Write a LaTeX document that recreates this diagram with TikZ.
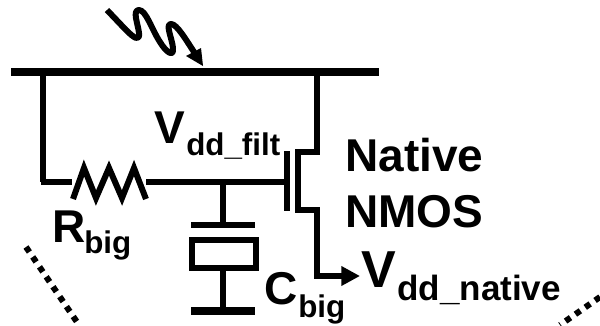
\documentclass[tikz,border=0pt]{standalone}
\usepackage{fontspec}
\setmainfont{Liberation Sans}
\usetikzlibrary{arrows.meta}
\tikzset{
  wire/.style={line width=4.5pt,black},
  bar/.style={line width=6pt,black},
  big/.style={inner sep=0pt,anchor=base west,font=\fontsize{34.5pt}{36pt}\selectfont\bfseries},
  sub/.style={inner sep=0pt,anchor=base west,font=\fontsize{23.5pt}{26pt}\selectfont\bfseries},
  dots/.style={line width=4.5pt,black,dash pattern=on 4.5pt off 4.5pt},
}
\begin{document}
\begin{tikzpicture}[x=0.75pt,y=-0.75pt]
\useasboundingbox (0,0) rectangle (600,325);
% named points
\coordinate (barL) at (11,72);
\coordinate (barR) at (379,72);
\coordinate (tapL) at (43,72);
\coordinate (tapR) at (317,72);
\coordinate (corner) at (43,182);
\coordinate (resL) at (72,182);
\coordinate (resR) at (146,182);
\coordinate (capT) at (223,182);
\coordinate (gate) at (287,182);
\coordinate (out) at (360,276);
\coordinate (arrowTip) at (203,66);
\coordinate (lightStart) at (107,10);
% rail and wires
\draw[bar] (barL) -- (barR);
\draw[wire] (tapL) -- (corner);
\draw[wire] (41,182) -- (resL);
\draw[wire] (resR) -- (gate);
% resistor
\draw[wire,miter limit=10] (73,199) -- (84,168) -- (96,198) -- (109,168) -- (122,198) -- (134,168) -- (146,199);
% capacitor
\draw[wire] (capT) -- (223,225);
\draw[wire] (191,225) -- (255,225);
\draw[wire] (191.5,240) rectangle (255.5,268);
\draw[wire] (223,268) -- (223,311);
\draw[bar] (191,311) -- (255,311);
% transistor
\draw[wire] (287,151) -- (287,211);
\draw[wire] (tapR) -- (317,152) -- (298,152) -- (298,210) -- (317,210) -- (317,276) -- (345,276);
\draw[-{Triangle[length=14pt,width=14pt]},wire] (340,276) -- (out);
% light arrow
\draw[wire,line join=round] (lightStart) -- (126,30)
  .. controls (134,38) and (140,42) .. (139,33)
  .. controls (138,24) and (132,10) .. (139,10)
  .. controls (146,10) and (152,30) .. (160,42)
  .. controls (166,52) and (174,58) .. (173,48)
  .. controls (172,38) and (165,24) .. (171,24)
  .. controls (177,24) and (186,40) .. (196,55);
\fill (arrowTip) -- (186,56) -- (201,48) -- cycle;
% dotted
\coordinate (dlA) at (26,247);
\coordinate (dlB) at (79,325);
\coordinate (drA) at (600,297);
\coordinate (drB) at (560,325);
\draw[dots] (dlA) -- (dlB);
\draw[dots] (drA) -- (drB);
% labels
\node[big] (vf) at (154,143) {V};
\node[sub] (vfs) at (186,155) {dd\_filt};
\node[big] (r) at (52,242) {R};
\node[sub] (rs) at (84,253) {big};
\node[big] (c) at (264,304) {C};
\node[sub] (cs) at (298,317) {big};
\node[big] (nat) at (345,171) {Native};
\node[big] (nm) at (345,227) {NMOS};
\node[big,font=\fontsize{39pt}{40pt}\selectfont\bfseries] (v) at (361,287) {V};
\node[sub,font=\fontsize{26.3pt}{28pt}\selectfont\bfseries] (vs) at (397,300) {dd\_native};
\end{tikzpicture}
\end{document}
